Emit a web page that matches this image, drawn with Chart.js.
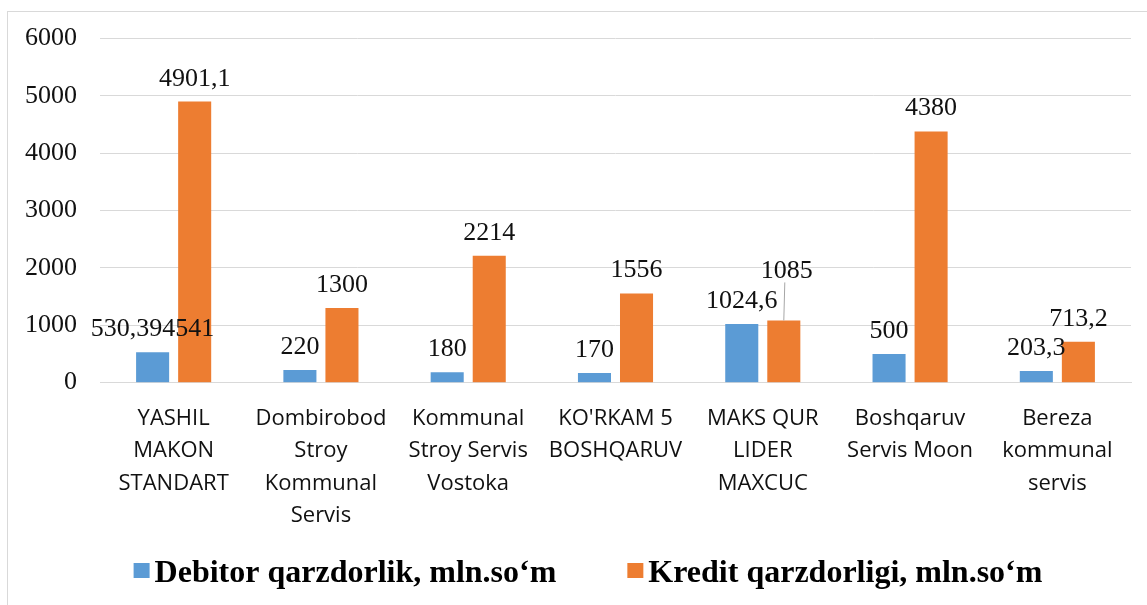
<!DOCTYPE html>
<html>
<head>
<meta charset="utf-8">
<script src="https://cdn.jsdelivr.net/npm/chart.js@4.4.0/dist/chart.umd.min.js"></script>
<style>
    html, body { margin: 0; padding: 0; background: #fff; overflow: hidden; }
    #frame { position: absolute; left: 7px; top: 11px; width: 1200px; height: 700px; border: 1px solid #d9d9d9; }
    #wrap { position: absolute; left: 0; top: 0; width: 1147px; height: 605px; }
</style>
</head>
<body>
<div id="frame"></div>
<div id="wrap"><canvas id="debtChart" width="1147" height="605"></canvas></div>
<script>
const categories = [
    ['YASHIL', 'MAKON', 'STANDART'],
    ['Dombirobod', 'Stroy', 'Kommunal', 'Servis'],
    ['Kommunal', 'Stroy Servis', 'Vostoka'],
    ["KO'RKAM 5", 'BOSHQARUV'],
    ['MAKS QUR', 'LIDER', 'MAXCUC'],
    ['Boshqaruv', 'Servis Moon'],
    ['Bereza', 'kommunal', 'servis']
];
const debitorValues = [530.394541, 220, 180, 170, 1024.6, 500, 203.3];
const kreditValues = [4901.1, 1300, 2214, 1556, 1085, 4380, 713.2];
const yTicks = [0, 1000, 2000, 3000, 4000, 5000, 6000];
const seriesNames = ['Debitor qarzdorlik, mln.so\u2018m', 'Kredit qarzdorligi, mln.so\u2018m'];
const seriesColors = ['#5b9bd5', '#ed7d31'];

// labels that Excel moved away from their bar (dataset-index: shift)
const movedLabels = { '1-4': { dx: 3, dy: -26, leader: true } };

const valueLabels = {
    id: 'valueLabels',
    afterDatasetsDraw(chart) {
        const ctx = chart.ctx;
        ctx.save();
        ctx.font = '26px "Liberation Serif", "Times New Roman", serif';
        ctx.fillStyle = '#111';
        ctx.textAlign = 'center';
        ctx.textBaseline = 'alphabetic';
        chart.data.datasets.forEach((ds, di) => {
            chart.getDatasetMeta(di).data.forEach((bar, i) => {
                const move = movedLabels[di + '-' + i] || { dx: 0, dy: 0 };
                const x = bar.x + move.dx;
                const y = bar.y - 16 + move.dy;
                if (move.leader) {
                    ctx.strokeStyle = '#a6a6a6';
                    ctx.lineWidth = 1;
                    ctx.beginPath();
                    ctx.moveTo(x - 2, y + 4);
                    ctx.lineTo(bar.x, bar.y);
                    ctx.stroke();
                }
                ctx.fillText(String(ds.data[i]).replace('.', ','), x, y);
            });
        });
        ctx.restore();
    }
};

const bottomLegend = {
    id: 'bottomLegend',
    afterDraw(chart) {
        const ctx = chart.ctx;
        ctx.save();
        ctx.font = 'bold 32px "Liberation Serif", "Times New Roman", serif';
        const box = 16, gap = 5, spacing = 71;
        const widths = seriesNames.map(t => ctx.measureText(t).width);
        const total = widths.reduce((a, w) => a + box + gap + w, 0) + spacing;
        let x = 588 - total / 2;
        const baseline = 582;
        seriesNames.forEach((name, i) => {
            ctx.fillStyle = seriesColors[i];
            ctx.fillRect(x, baseline - 19, box, 15);
            ctx.fillStyle = '#000';
            ctx.textAlign = 'left';
            ctx.fillText(name, x + box + gap, baseline);
            x += box + gap + widths[i] + spacing;
        });
        ctx.restore();
    }
};

new Chart(document.getElementById('debtChart').getContext('2d'), {
    type: 'bar',
    data: {
        labels: categories,
        datasets: [
            { label: seriesNames[0], data: debitorValues, backgroundColor: seriesColors[0] },
            { label: seriesNames[1], data: kreditValues, backgroundColor: seriesColors[1] }
        ]
    },
    options: {
        responsive: false,
        animation: false,
        categoryPercentage: 0.571,
        barPercentage: 0.786,
        layout: { padding: { top: 32, left: 2, right: 16, bottom: 61 } },
        plugins: {
            legend: { display: false },
            tooltip: { enabled: false }
        },
        scales: {
            x: {
                grid: { display: false },
                border: { color: '#d9d9d9' },
                ticks: {
                    color: '#111',
                    padding: 12,
                    maxRotation: 0,
                    autoSkip: false,
                    font: { family: '"Open Sans", sans-serif', size: 22, lineHeight: 1.47 }
                }
            },
            y: {
                min: 0,
                max: 6000,
                afterBuildTicks: axis => { axis.ticks = yTicks.map(v => ({ value: v })); },
                grid: { color: '#d9d9d9', drawTicks: false },
                border: { display: false },
                ticks: {
                    color: '#111',
                    padding: 23,
                    callback: v => String(v),
                    font: { family: '"Liberation Serif", "Times New Roman", serif', size: 26 }
                }
            }
        }
    },
    plugins: [valueLabels, bottomLegend]
});
</script>
</body>
</html>
